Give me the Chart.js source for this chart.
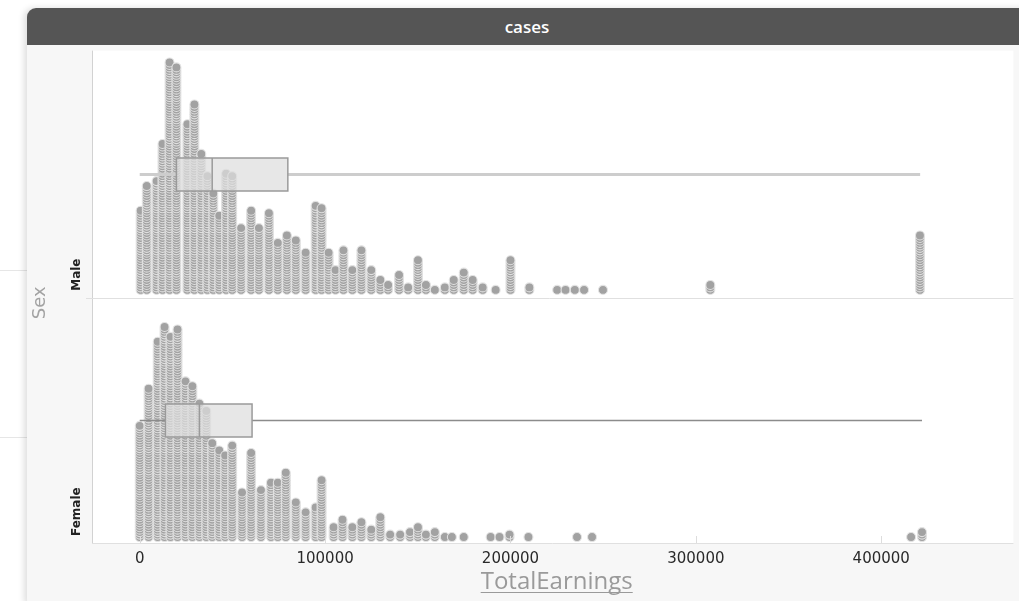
<!DOCTYPE html>
<html><head><meta charset="utf-8">
<script src="https://cdn.jsdelivr.net/npm/chart.js@4.4.0/dist/chart.umd.min.js"></script>
<style>
html,body{margin:0;padding:0;background:#fff;width:1019px;height:601px;overflow:hidden}
.side{position:absolute;left:0;width:27px;height:1px;background:#e6e6e6}
#card{position:absolute;left:27px;top:8px;width:1000px;height:600px;background:#f7f7f7;border-radius:9px 0 0 9px;box-shadow:-3px 0 6px rgba(0,0,0,0.13);overflow:hidden}
#hdr{position:absolute;left:0;top:0;width:1000px;height:37px;background:#555;color:#fff;font:600 17px "Open Sans",sans-serif;text-align:center;line-height:37px}
#c{position:absolute;left:0;top:37px}
</style></head>
<body>
<div class="side" style="top:270px"></div>
<div class="side" style="top:437px"></div>
<div id="card"><div id="hdr">cases</div><canvas id="c" width="992" height="556"></canvas></div>
<script>
// ---- data ----
const categories = ['Male', 'Female'];
const maleEarnings = [500,3800,9100,12300,16100,19800,25700,29500,33200,36500,39700,42900,46600,49900,54700,60100,64300,69700,74500,79400,84200,89500,94900,98100,101900,105600,109900,114700,119600,124900,129800,134000,139900,144800,150100,154400,159200,164600,169400,174800,179600,185000,192000,200000,210200,225200,229700,234700,239700,249900,307800,420900];
const maleCounts = [33,43,45,60,93,91,68,76,56,47,40,31,48,47,26,33,26,32,20,23,21,16,35,34,16,9,17,9,17,9,5,3,7,2,13,3,1,2,5,8,5,2,1,13,2,1,1,1,1,1,3,23];
const femaleEarnings = [0,4800,9700,13400,16600,20400,24700,28400,32200,35900,39100,42900,46100,49900,55200,60100,65400,70800,74500,78800,84200,89500,94900,98100,104600,109400,114700,119600,124900,129800,135100,140500,145800,150100,154400,159200,164600,168400,174800,189300,194100,199500,209700,235900,244000,416100,422000];
const femaleCounts = [46,61,80,86,82,85,64,62,55,52,39,36,34,38,19,35,20,23,23,27,15,11,13,24,5,8,5,7,4,9,2,2,3,5,2,3,1,1,1,1,1,2,1,1,1,1,3];
const boxMin = [0, 0];
const boxQ1 = [19800, 13900];
const boxMedian = [39100, 32200];
const boxQ3 = [79900, 60600];
const boxMax = [421000, 422000];
const tickValues = [0, 100000, 200000, 300000, 400000];

// ---- layout (panel bands on the stacking scale) ----
const panels = [{lo: 96.8, hi: 196.8, base: 100}, {lo: -2.4, hi: 96.8, base: 0}];
const boxStyles = [
  {whisker: '#cdcdcd', whiskerWidth: 3},
  {whisker: '#8c8c8c', whiskerWidth: 1.5}
];

function stackPoints(values, counts, base) {
  const pts = [];
  values.forEach((v, j) => { for (let i = 0; i < counts[j]; i++) pts.push({x: v, y: base + i}); });
  return pts;
}

const decor = {
  id: 'decor',
  beforeDraw(chart) {
    const {ctx, chartArea: a} = chart;
    ctx.save();
    ctx.fillStyle = '#f7f7f7';
    ctx.fillRect(0, 0, chart.width, chart.height);
    ctx.fillStyle = '#ffffff';
    ctx.fillRect(a.left, a.top, a.right - a.left, a.bottom - a.top);
    ctx.restore();
  },
  afterDatasetsDraw(chart) {
    const {ctx} = chart;
    const xs = chart.scales.x, ys = chart.scales.y;
    ctx.save();
    categories.forEach((c, k) => {
      const p = panels[k], st = boxStyles[k];
      const yc = Math.round(ys.getPixelForValue((p.lo + p.hi) / 2)) + 0.5;
      const h = 16.5;
      const x0 = xs.getPixelForValue(boxMin[k]), x1 = xs.getPixelForValue(boxQ1[k]);
      const xm = xs.getPixelForValue(boxMedian[k]), x3 = xs.getPixelForValue(boxQ3[k]);
      const x4 = xs.getPixelForValue(boxMax[k]);
      ctx.strokeStyle = st.whisker; ctx.lineWidth = st.whiskerWidth;
      ctx.beginPath(); ctx.moveTo(x0, yc); ctx.lineTo(x1, yc); ctx.moveTo(x3, yc); ctx.lineTo(x4, yc); ctx.stroke();
      ctx.fillStyle = 'rgba(222,222,222,0.72)';
      ctx.fillRect(x1, yc - h, x3 - x1, 2 * h);
      ctx.strokeStyle = '#9a9a9a'; ctx.lineWidth = 1.5;
      ctx.strokeRect(x1, yc - h, x3 - x1, 2 * h);
      ctx.beginPath(); ctx.moveTo(xm, yc - h); ctx.lineTo(xm, yc + h); ctx.stroke();
    });
    ctx.restore();
  },
  afterDraw(chart) {
    const {ctx, chartArea: a} = chart;
    const xs = chart.scales.x, ys = chart.scales.y;
    ctx.save();
    // axis lines
    ctx.strokeStyle = '#d2d2d2'; ctx.lineWidth = 1;
    ctx.beginPath(); ctx.moveTo(a.left + 0.5, a.top); ctx.lineTo(a.left + 0.5, a.bottom); ctx.stroke();
    ctx.strokeStyle = '#e0e0e0';
    ctx.beginPath(); ctx.moveTo(a.left, a.bottom + 0.5); ctx.lineTo(a.right, a.bottom + 0.5); ctx.stroke();
    const sep = Math.round(ys.getPixelForValue(panels[0].lo)) + 0.5;
    ctx.beginPath(); ctx.moveTo(a.left - 6, sep); ctx.lineTo(a.right, sep); ctx.stroke();
    // x tick marks
    ctx.strokeStyle = '#dddddd';
    tickValues.forEach(v => { const x = Math.round(xs.getPixelForValue(v)) + 0.5; ctx.beginPath(); ctx.moveTo(x, a.bottom - 7); ctx.lineTo(x, a.bottom); ctx.stroke(); });
    // category labels
    ctx.fillStyle = '#222'; ctx.font = 'bold 12px "DejaVu Sans"';
    ctx.textAlign = 'left'; ctx.textBaseline = 'middle';
    categories.forEach((c, k) => {
      const yb = ys.getPixelForValue(panels[k].lo) - 7;
      ctx.save(); ctx.translate(a.left - 15, yb); ctx.rotate(-Math.PI / 2); ctx.fillText(c, 0, 0); ctx.restore();
    });
    // y axis title
    ctx.fillStyle = '#a3a3a3'; ctx.font = '18px "DejaVu Sans"'; ctx.textAlign = 'center';
    ctx.save(); ctx.translate(13, (a.top + a.bottom) / 2 + 6); ctx.rotate(-Math.PI / 2); ctx.fillText('Sex', 0, 0); ctx.restore();
    // x axis title (underlined)
    ctx.fillStyle = '#9a9a9a'; ctx.font = '24px "Open Sans"'; ctx.textAlign = 'center'; ctx.textBaseline = 'alphabetic';
    const tx = (a.left + a.right) / 2 + 4, ty = a.bottom + 46;
    ctx.fillText('TotalEarnings', tx, ty);
    const w = ctx.measureText('TotalEarnings').width;
    ctx.strokeStyle = '#9a9a9a'; ctx.lineWidth = 1;
    ctx.beginPath(); ctx.moveTo(tx - w / 2, ty + 3.5); ctx.lineTo(tx + w / 2, ty + 3.5); ctx.stroke();
    ctx.restore();
  }
};

new Chart(document.getElementById('c'), {
  type: 'scatter',
  data: {
    datasets: [
      {label: categories[0], data: stackPoints(maleEarnings, maleCounts, panels[0].base)},
      {label: categories[1], data: stackPoints(femaleEarnings, femaleCounts, panels[1].base)}
    ]
  },
  options: {
    responsive: false, animation: false, devicePixelRatio: 1,
    layout: {padding: {left: 65, right: 0, top: 0, bottom: 0}},
    elements: {point: {radius: 4.5, hoverRadius: 4.5, backgroundColor: '#a2a2a2', borderColor: 'rgba(228,228,228,0.95)', borderWidth: 1.1}},
    plugins: {legend: {display: false}, tooltip: {enabled: false}},
    scales: {
      x: {
        type: 'linear', min: -25740, max: 471300,
        afterBuildTicks: s => { s.ticks = tickValues.map(v => ({value: v})); },
        afterFit: s => { s.height = 58; },
        grid: {display: false, drawTicks: false}, border: {display: false},
        ticks: {padding: 7, color: '#2a2a2a', font: {family: 'DejaVu Sans', size: 15}, maxRotation: 0, callback: v => String(v)}
      },
      y: {type: 'linear', display: false, min: panels[1].lo, max: panels[0].hi}
    }
  },
  plugins: [decor]
});
</script>
</body></html>
